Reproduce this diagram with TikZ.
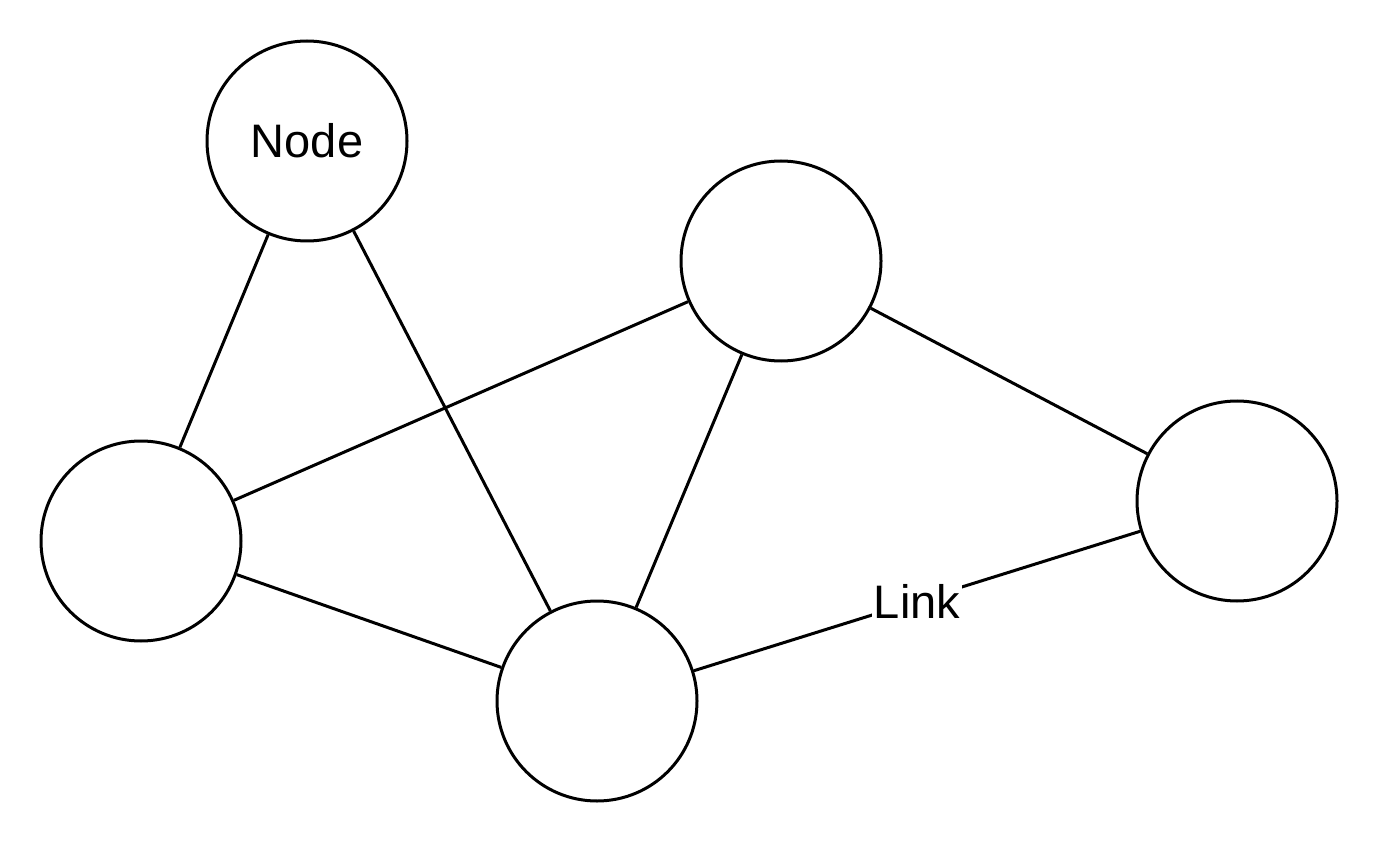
\documentclass[tikz,border=0pt]{standalone}
\usepackage{fontspec}
\setmainfont{Liberation Sans}

\begin{document}
\begin{tikzpicture}[x=0.5pt, y=-0.5pt, every node/.style={font=\fontsize{23.5}{28}\selectfont}]
    \tikzstyle{vertex} = [circle, draw=black, line width=1.5pt, minimum size=100pt, inner sep=0pt]
    \tikzstyle{link} = [draw, line width=1.5pt]
    \tikzstyle{tag} = [fill=white, inner sep=1pt]

    \useasboundingbox (0,0) rectangle (1380,844);

    \node [vertex] (top) at (307,141) {Node};
    \node [vertex] (left) at (141,541) {};
    \node [vertex] (bottom) at (597,701) {};
    \node [vertex] (upper) at (781,261) {};
    \node [vertex] (right) at (1237,501) {};

    \path [link] (top) -- (left);
    \path [link] (top) -- (bottom);
    \path [link] (left) -- (upper);
    \path [link] (left) -- (bottom);
    \path [link] (upper) -- (bottom);
    \path [link] (upper) -- (right);
    \path [link] (bottom) -- node [tag] (linklabel) {Link} (right);
\end{tikzpicture}
\end{document}
